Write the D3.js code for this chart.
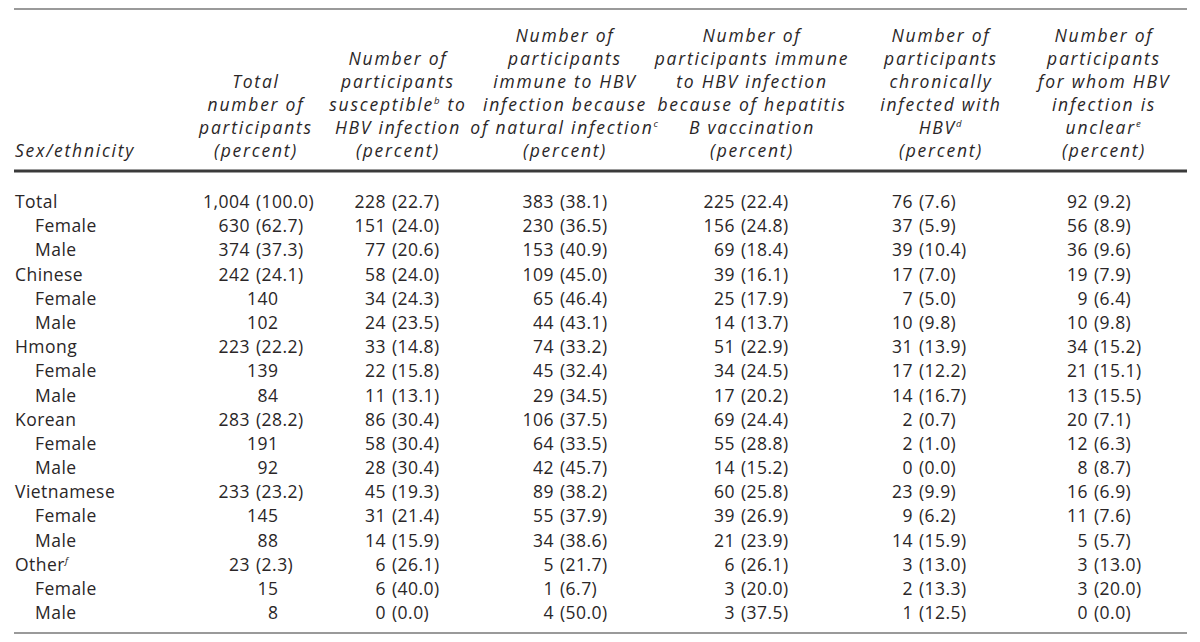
<!DOCTYPE html>
<html><head><meta charset="utf-8">
<script src="https://cdn.jsdelivr.net/npm/d3@7"></script>
<style>
html,body{margin:0;padding:0;background:#fff;}
svg{display:block;}
text{font-family:"Open Sans", "Noto Sans", sans-serif; fill:#2a2627;}
</style></head>
<body>
<svg id="chart" width="1200" height="642"></svg>
<script>
// ---------- data ----------
const rowLabels = ["Total","Female","Male","Chinese","Female","Male","Hmong","Female","Male",
  "Korean","Female","Male","Vietnamese","Female","Male","Other","Female","Male"];
const rowLevels = [0,1,1,0,1,1,0,1,1,0,1,1,0,1,1,0,1,1];
const rowNotes  = ["","","","","","","","","","","","","","","","f","",""];

const totalN   = [1004,630,374,242,140,102,223,139,84,283,191,92,233,145,88,23,15,8];
const totalPct = [100.0,62.7,37.3,24.1,null,null,22.2,null,null,28.2,null,null,23.2,null,null,2.3,null,null];
const suscN    = [228,151,77,58,34,24,33,22,11,86,58,28,45,31,14,6,6,0];
const suscPct  = [22.7,24.0,20.6,24.0,24.3,23.5,14.8,15.8,13.1,30.4,30.4,30.4,19.3,21.4,15.9,26.1,40.0,0.0];
const natN     = [383,230,153,109,65,44,74,45,29,106,64,42,89,55,34,5,1,4];
const natPct   = [38.1,36.5,40.9,45.0,46.4,43.1,33.2,32.4,34.5,37.5,33.5,45.7,38.2,37.9,38.6,21.7,6.7,50.0];
const vacN     = [225,156,69,39,25,14,51,34,17,69,55,14,60,39,21,6,3,3];
const vacPct   = [22.4,24.8,18.4,16.1,17.9,13.7,22.9,24.5,20.2,24.4,28.8,15.2,25.8,26.9,23.9,26.1,20.0,37.5];
const chrN     = [76,37,39,17,7,10,31,17,14,2,2,0,23,9,14,3,2,1];
const chrPct   = [7.6,5.9,10.4,7.0,5.0,9.8,13.9,12.2,16.7,0.7,1.0,0.0,9.9,6.2,15.9,13.0,13.3,12.5];
const uncN     = [92,56,36,19,9,10,34,21,13,20,12,8,16,11,5,3,3,0];
const uncPct   = [9.2,8.9,9.6,7.9,6.4,9.8,15.2,15.1,15.5,7.1,6.3,8.7,6.9,7.6,5.7,13.0,20.0,0.0];

const columnKeys = ["label","total","susc","nat","vac","chr","unc"];
// header lines; [text, superscript, trailing text]
const headerLines = {
  label: [["Sex/ethnicity",""]],
  total: [["Total",""],["number of",""],["participants",""],["(percent)",""]],
  susc:  [["Number of",""],["participants",""],["susceptible","b"," to"],["HBV infection",""],["(percent)",""]],
  nat:   [["Number of",""],["participants",""],["immune to HBV",""],["infection because",""],["of natural infection","c"],["(percent)",""]],
  vac:   [["Number of",""],["participants immune",""],["to HBV infection",""],["because of hepatitis",""],["B vaccination",""],["(percent)",""]],
  chr:   [["Number of",""],["participants",""],["chronically",""],["infected with",""],["HBV","d"],["(percent)",""]],
  unc:   [["Number of",""],["participants",""],["for whom HBV",""],["infection is",""],["unclear","e"],["(percent)",""]]
};
const colData = {
  total: [totalN,totalPct], susc: [suscN,suscPct], nat: [natN,natPct],
  vac: [vacN,vacPct], chr: [chrN,chrPct], unc: [uncN,uncPct]
};

// ---------- layout ----------
const FS = 17.5, HFS = 17.5;
const svg = d3.select("#chart");

// tracking calibration to mimic the wide-set original face
function measure(str, size, italic) {
  const t = svg.append("text").attr("font-size", size).attr("font-style", italic ? "italic" : "normal").text(str);
  const w = t.node().getComputedTextLength();
  t.remove();
  return w;
}
const dataLS = Math.max(0, (110 - measure("1,004 (100.0)", FS, false)) / 13);
const headLS = Math.max(0, (99 - measure("Number of", HFS, true)) / 9);

const headerX = d3.scaleOrdinal().domain(columnKeys).range([15, 256, 398, 565, 752, 941, 1104]);
const parenX  = d3.scaleOrdinal().domain(columnKeys).range([0, 256, 392, 560, 741, 919, 1094]);
const y = d3.scaleLinear().domain([0, rowLabels.length - 1]).range([202, 613]);
const headerY = d3.scaleLinear().domain([0, 5]).range([36, 151]);
const fmtN = d3.format(",d");
const fmtP = d3.format(".1f");

// rules
svg.append("line").attr("x1",14).attr("x2",1187).attr("y1",9).attr("y2",9)
  .attr("stroke","#9a9a9a").attr("stroke-width",2);
svg.append("line").attr("x1",14).attr("x2",1187).attr("y1",171).attr("y2",171)
  .attr("stroke","#3a3a3a").attr("stroke-width",3);
svg.append("line").attr("x1",14).attr("x2",1187).attr("y1",633).attr("y2",633)
  .attr("stroke","#9a9a9a").attr("stroke-width",2);

// header
columnKeys.forEach(k => {
  const lines = headerLines[k];
  const off = 6 - lines.length;
  lines.forEach((ln, i) => {
    const t = svg.append("text")
      .attr("x", headerX(k)).attr("y", headerY(i + off))
      .attr("dy","0.35em")
      .attr("text-anchor", k === "label" ? "start" : "middle")
      .attr("font-size", HFS).attr("font-style","italic")
      .attr("letter-spacing", headLS.toFixed(2));
    t.append("tspan").text(ln[0]);
    if (ln[1]) t.append("tspan").attr("font-size", HFS*0.55).attr("dy","-0.75em").text(ln[1]);
    if (ln[2]) t.append("tspan").attr("dy", (HFS*0.75*0.55)+"px").text(ln[2]);
  });
});

// row labels
rowLabels.forEach((lab, i) => {
  const t = svg.append("text")
    .attr("x", 15 + rowLevels[i]*20).attr("y", y(i)).attr("dy","0.35em")
    .attr("font-size", FS).attr("letter-spacing", dataLS.toFixed(2));
  t.append("tspan").text(lab);
  if (rowNotes[i]) t.append("tspan").attr("font-size", FS*0.55).attr("font-style","italic")
    .attr("dy","-0.75em").text(rowNotes[i]);
});

// data cells
Object.keys(colData).forEach(k => {
  const [ns, ps] = colData[k];
  const px = parenX(k);
  ns.forEach((n, i) => {
    const p = ps[i];
    if (p === null) {
      svg.append("text").attr("x", px + 22 + dataLS).attr("y", y(i)).attr("dy","0.35em")
        .attr("text-anchor","end").attr("font-size", FS)
        .attr("letter-spacing", dataLS.toFixed(2)).text(fmtN(n));
    } else {
      svg.append("text").attr("x", px - 6.5 + dataLS).attr("y", y(i)).attr("dy","0.35em")
        .attr("text-anchor","end").attr("font-size", FS)
        .attr("letter-spacing", dataLS.toFixed(2)).text(fmtN(n));
      svg.append("text").attr("x", px).attr("y", y(i)).attr("dy","0.35em")
        .attr("text-anchor","start").attr("font-size", FS)
        .attr("letter-spacing", dataLS.toFixed(2)).text("(" + fmtP(p) + ")");
    }
  });
});
</script>
</body></html>
